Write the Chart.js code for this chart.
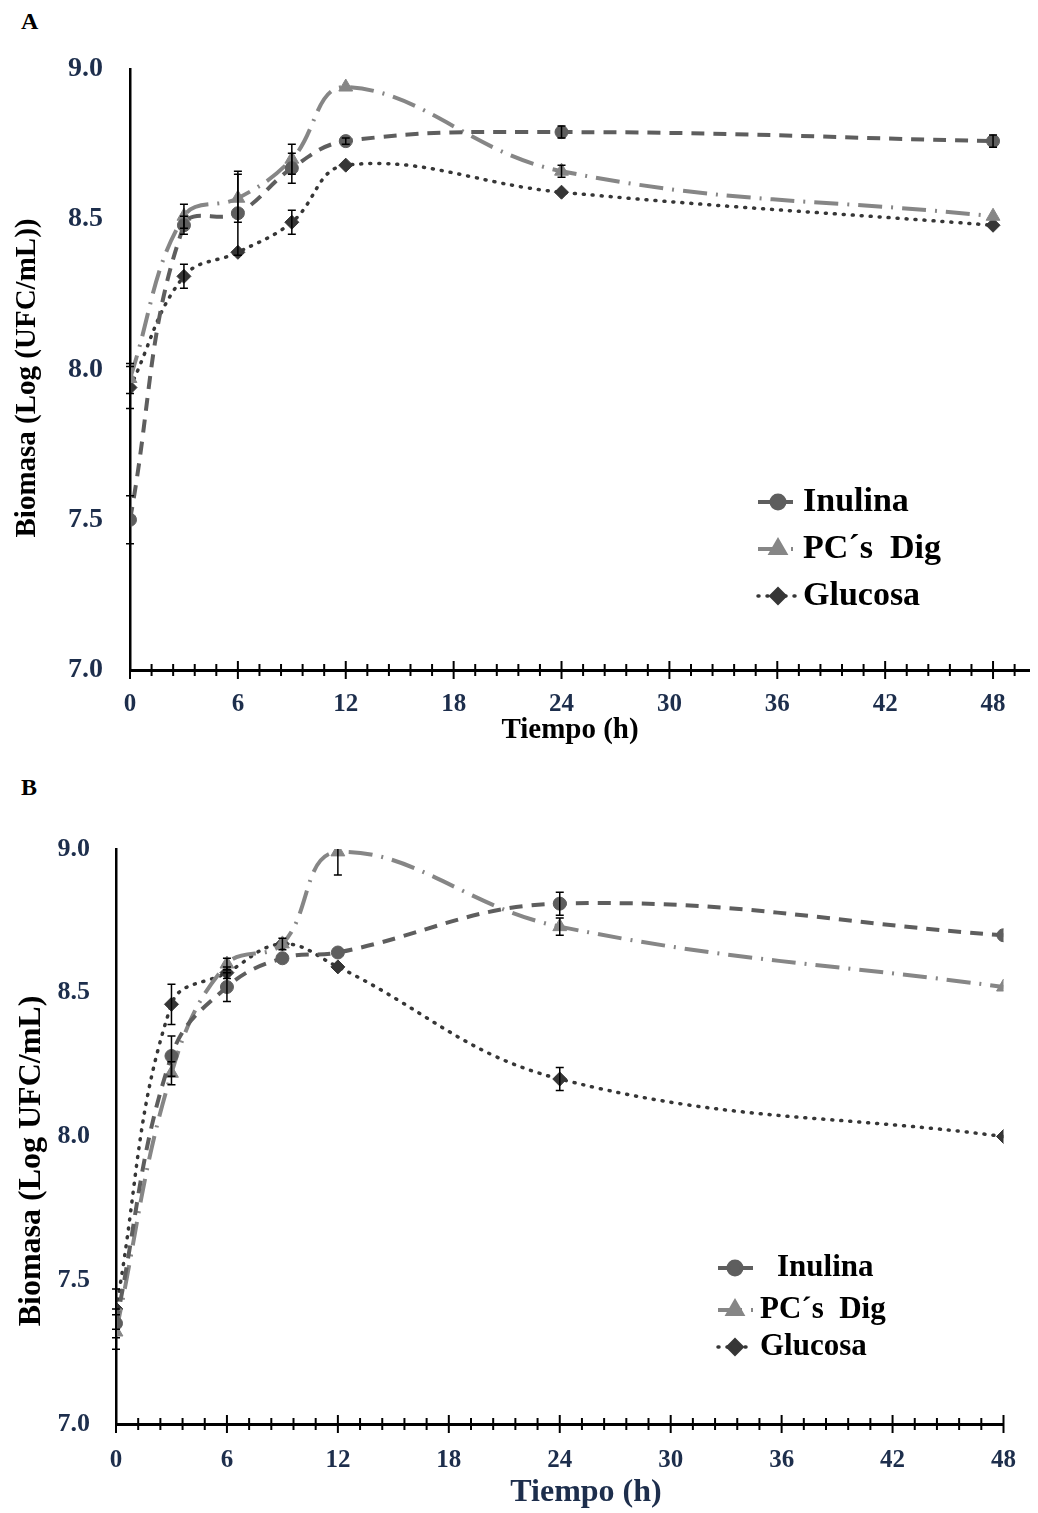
<!DOCTYPE html>
<html><head><meta charset="utf-8">
<script src="https://cdn.jsdelivr.net/npm/chart.js@4/dist/chart.umd.min.js"></script>
<style>
body{margin:0;background:#fff;width:1038px;height:1513px;position:relative;overflow:hidden;font-family:"Liberation Serif",serif}
canvas{position:absolute;left:0}
.lbl{position:absolute;font:bold 24px "Liberation Serif",serif;color:#000}
</style></head><body>
<div class="lbl" style="left:21px;top:8px">A</div>
<div class="lbl" style="left:21px;top:774px">B</div>
<canvas id="cA" width="1038" height="760" style="top:0"></canvas>
<canvas id="cB" width="1038" height="753" style="top:760px"></canvas>
<script>
// ---------- data ----------
const timeHours = [0, 3, 6, 9, 12, 24, 48];
const seriesNames = ['Inulina', 'PC´s  Dig', 'Glucosa'];
const xTickLabels = [0, 6, 12, 18, 24, 30, 36, 42, 48];
const yTickValues = [7.0, 7.5, 8.0, 8.5, 9.0];

// Panel A
const inulinaA    = [7.50, 8.48, 8.52, 8.67, 8.76, 8.79, 8.76];
const inulinaErrA = [0.08, 0.03, 0.14, 0.05, 0.01, 0.02, 0.02];
const pcDigA      = [7.97, 8.51, 8.57, 8.70, 8.94, 8.66, 8.51];
const pcDigErrA   = [0.05, 0.04, 0.08, 0.05, 0.0, 0.02, 0.0];
const glucosaA    = [7.94, 8.31, 8.39, 8.49, 8.68, 8.59, 8.48];
const glucosaErrA = [0.07, 0.04, 0.0, 0.04, 0.0, 0.0, 0.0];

// Panel B
const inulinaB    = [7.35, 8.28, 8.52, 8.62, 8.64, 8.81, 8.70];
const inulinaErrB = [0.05, 0.07, 0.05, 0.0, 0.0, 0.04, 0.0];
const pcDigB      = [7.32, 8.22, 8.60, 8.67, 8.99, 8.73, 8.52];
const pcDigErrB   = [0.06, 0.04, 0.02, 0.02, 0.08, 0.03, 0.0];
const glucosaB    = [7.40, 8.46, 8.57, 8.67, 8.59, 8.20, 8.00];
const glucosaErrB = [0.07, 0.07, 0.02, 0.0, 0.0, 0.04, 0.0];

// ---------- styles ----------
const NAVY = '#1d2e4c';
const styles = [
  {color:'#5e5e5e', dash:[13,9], cap:'butt', pointStyle:'circle', r:6.5, w:4},
  {color:'#868686', dash:[24,9,2,9], cap:'butt', pointStyle:'triangle', r:8, w:4},
  {color:'#363636', dash:[1,8], cap:'round', pointStyle:'rectRot', r:7, w:3.5}
];

function pts(vals){ return timeHours.map((t,i)=>({x:t, y:vals[i]})); }

// ---------- plugins ----------
const errorBars = {
  id:'errorBars',
  afterDatasetsDraw(chart){
    const {ctx, chartArea, scales:{x, y}} = chart;
    ctx.save();
    ctx.beginPath();
    ctx.rect(chartArea.left-10, chartArea.top, chartArea.right-chartArea.left+20, chartArea.bottom-chartArea.top);
    ctx.clip();
    ctx.strokeStyle = '#000'; ctx.lineWidth = 1.5; ctx.setLineDash([]);
    chart.data.datasets.forEach(ds=>{
      ds.data.forEach((p,i)=>{
        const e = ds.errors[i]; if(!e) return;
        const px = x.getPixelForValue(p.x);
        const t = y.getPixelForValue(p.y+e), b = y.getPixelForValue(p.y-e);
        ctx.beginPath();
        ctx.moveTo(px,t); ctx.lineTo(px,b);
        ctx.moveTo(px-4,t); ctx.lineTo(px+4,t);
        ctx.moveTo(px-4,b); ctx.lineTo(px+4,b);
        ctx.stroke();
      });
    });
    ctx.restore();
  }
};

const crossTicks = {
  id:'crossTicks',
  afterDraw(chart){
    const {ctx, chartArea, scales:{x}} = chart;
    ctx.save();
    ctx.strokeStyle = '#000'; ctx.lineWidth = 2; ctx.setLineDash([]);
    x.ticks.forEach(t=>{
      const px = x.getPixelForValue(t.value);
      const major = xTickLabels.includes(t.value);
      const len = major ? 9 : 6;
      ctx.beginPath();
      ctx.moveTo(px, chartArea.bottom-len); ctx.lineTo(px, chartArea.bottom+len);
      ctx.stroke();
    });
    ctx.restore();
  }
};

const customLegend = {
  id:'customLegend',
  afterDraw(chart, args, o){
    const ctx = chart.ctx;
    ctx.save();
    chart.data.datasets.forEach((ds,i)=>{
      const yy = o.rows[i];
      ctx.strokeStyle = ds.borderColor; ctx.lineWidth = ds.borderWidth;
      ctx.setLineDash(ds.borderDash); ctx.lineCap = ds.borderCapStyle;
      ctx.beginPath(); ctx.moveTo(o.x0, yy); ctx.lineTo(o.x1, yy); ctx.stroke();
      ctx.setLineDash([]);
      ctx.fillStyle = ds.pointBackgroundColor; ctx.strokeStyle = ds.pointBorderColor;
      Chart.helpers.drawPoint(ctx, {pointStyle:ds.pointStyle, radius:ds.pointRadius, rotation:0, borderWidth:1}, o.mx, yy);
      ctx.fillStyle = '#000'; ctx.font = o.font; ctx.textBaseline = 'middle'; ctx.textAlign = 'left';
      ctx.fillText(ds.label, o.tx + (o.indent[i]||0), yy);
    });
    ctx.restore();
  }
};

const axisTitles = {
  id:'axisTitles',
  afterDraw(chart, args, o){
    const ctx = chart.ctx;
    ctx.save();
    ctx.textAlign = 'center'; ctx.textBaseline = 'middle';
    ctx.font = o.x.font; ctx.fillStyle = o.x.color;
    ctx.fillText(o.x.text, o.x.cx, o.x.cy);
    ctx.translate(o.y.cx, o.y.cy); ctx.rotate(-Math.PI/2);
    ctx.font = o.y.font; ctx.fillStyle = o.y.color;
    ctx.fillText(o.y.text, 0, 0);
    ctx.restore();
  }
};

function makeChart(id, series, errs, c){
  const datasets = series.map((vals,i)=>{
    const s = styles[i];
    return {
      label: seriesNames[i], data: pts(vals), errors: errs[i],
      borderColor:s.color, backgroundColor:s.color, borderWidth:s.w, borderDash:s.dash,
      borderCapStyle:s.cap, pointStyle:s.pointStyle, pointRadius:s.r,
      pointBackgroundColor:s.color, pointBorderColor:s.color, pointBorderWidth:1,
      tension:0.4, fill:false
    };
  });
  return new Chart(document.getElementById(id), {
    type:'line',
    data:{datasets},
    options:{
      responsive:false, animation:false, devicePixelRatio:1,
      layout:{padding:c.padding},
      plugins:{
        legend:{display:false}, tooltip:{enabled:false},
        customLegend:c.legend, axisTitles:c.titles
      },
      scales:{
        x:{
          type:'linear', min:0, max:c.xMax,
          afterFit:s=>{ s.height = c.xH; },
          afterBuildTicks:s=>{
            const n = Math.floor(c.xMax/1.2 + 1e-6);
            s.ticks = Array.from({length:n+1}, (_,k)=>({value:+(k*1.2).toFixed(1)}));
          },
          grid:{display:false, drawTicks:false},
          border:{display:true, color:'#000', width:3},
          ticks:{autoSkip:false, maxRotation:0, padding:c.xPad, color:NAVY,
                 font:{family:'Liberation Serif', weight:'bold', size:c.xFont},
                 callback:v=> xTickLabels.includes(v) ? String(v) : ''}
        },
        y:{
          min:7, max:9,
          afterFit:s=>{ s.width = c.yW; },
          afterBuildTicks:s=>{ s.ticks = yTickValues.map(v=>({value:v})); },
          grid:{display:false, drawTicks:false},
          border:{display:true, color:'#000', width:2.5},
          ticks:{padding:c.yPad, color:NAVY,
                 font:{family:'Liberation Serif', weight:'bold', size:c.yFont},
                 callback:v=> v.toFixed(1)}
        }
      }
    },
    plugins:[errorBars, crossTicks, customLegend, axisTitles]
  });
}

makeChart('cA', [inulinaA, pcDigA, glucosaA], [inulinaErrA, pcDigErrA, glucosaErrA], {
  padding:{top:69, left:0, right:6, bottom:0}, xMax:50, xH:90, yW:130,
  xPad:20, yPad:27, xFont:25, yFont:28,
  legend:{rows:[502,549,596], x0:758, x1:798, mx:778, tx:803, indent:[0,0,0], font:'bold 34px "Liberation Serif"'},
  titles:{
    x:{text:'Tiempo (h)', cx:570, cy:731, font:'bold 29px "Liberation Serif"', color:'#000'},
    y:{text:'Biomasa (Log (UFC/mL))', cx:28, cy:378, font:'bold 29px "Liberation Serif"', color:'#000'}
  }
});

makeChart('cB', [inulinaB, pcDigB, glucosaB], [inulinaErrB, pcDigErrB, glucosaErrB], {
  padding:{top:89, left:0, right:16, bottom:0}, xMax:48, xH:89, yW:116,
  xPad:22, yPad:26, xFont:25, yFont:26,
  legend:{rows:[508,550,587], x0:718, x1:754, mx:735, tx:760, indent:[17,0,0], font:'bold 31px "Liberation Serif"'},
  titles:{
    x:{text:'Tiempo (h)', cx:586, cy:733, font:'bold 32px "Liberation Serif"', color:NAVY},
    y:{text:'Biomasa (Log UFC/mL)', cx:32, cy:401, font:'bold 32px "Liberation Serif"', color:'#000'}
  }
});
</script>
</body></html>
